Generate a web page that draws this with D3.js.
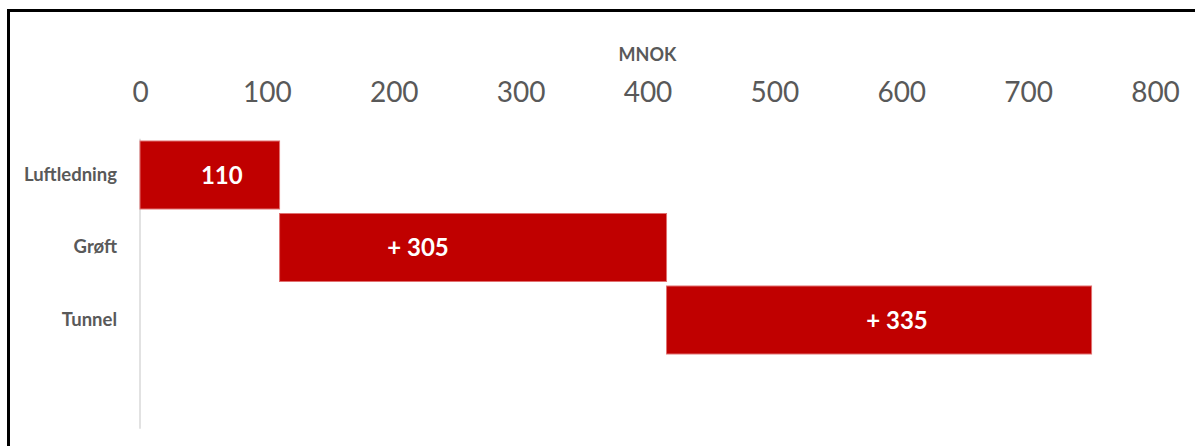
<!DOCTYPE html>
<html>
<head>
<meta charset="utf-8">
<script src="https://cdn.jsdelivr.net/npm/d3@7"></script>
<style>
  html, body { margin: 0; padding: 0; background: #ffffff; }
  svg { display: block; }
</style>
</head>
<body>
<svg id="chart" width="1195" height="446"></svg>
<script>
// Cost steps (MNOK) for each route option
const categories = ["Luftledning", "Grøft", "Tunnel"];
const increments = [110, 305, 335];
const tickValues = [0, 100, 200, 300, 400, 500, 600, 700, 800];
const axisTitle = "MNOK";

// cumulative start/end of each step
let running = 0;
const steps = categories.map((c, i) => {
  const start = running;
  running += increments[i];
  return { cat: c, value: increments[i], start: start, end: running, first: i === 0 };
});

const svg = d3.select("#chart");
const W = 1195, H = 446;
const font = "Lato, 'Open Sans', sans-serif";
const grey = "#595959";
const barColor = "#C00000";

// frame
svg.append("rect")
  .attr("x", 8.5).attr("y", 10.5)
  .attr("width", W + 20).attr("height", H + 20)
  .attr("fill", "none").attr("stroke", "#000").attr("stroke-width", 3);

const plotTop = 138.75, plotBottom = 428.75;
const step = (plotBottom - plotTop) / 4;

const x = d3.scaleLinear().domain([0, 800]).range([140, 1155]);
const y = d3.scaleBand()
  .domain(categories)
  .range([plotTop, plotTop + step * categories.length])
  .paddingInner(0.062)
  .paddingOuter(0.031);

// top value axis (labels only)
const xAxis = d3.axisTop(x).tickValues(tickValues).tickSize(0).tickPadding(0);
const gx = svg.append("g").attr("transform", "translate(0,102)").call(xAxis);
gx.select(".domain").remove();
gx.selectAll("text")
  .attr("font-family", font)
  .attr("font-size", 28)
  .attr("fill", grey)
  .attr("dy", 0);

svg.append("text")
  .attr("x", x(400)).attr("y", 61)
  .attr("text-anchor", "middle")
  .attr("font-family", font)
  .attr("font-weight", "bold")
  .attr("font-size", 18)
  .attr("fill", grey)
  .text(axisTitle);

// category axis line
svg.append("line")
  .attr("x1", x(0)).attr("x2", x(0))
  .attr("y1", plotTop).attr("y2", plotBottom)
  .attr("stroke", "#d9d9d9").attr("stroke-width", 1.5);

// category labels
const yAxis = d3.axisLeft(y).tickSize(0).tickPadding(0);
const gy = svg.append("g").attr("transform", "translate(117,0)").call(yAxis);
gy.select(".domain").remove();
gy.selectAll("text")
  .attr("font-family", font)
  .attr("font-weight", "bold")
  .attr("font-size", 18.5)
  .attr("fill", grey)
  .attr("dy", "0.32em");

// floating bars
svg.append("g").selectAll("rect")
  .data(steps)
  .join("rect")
  .attr("x", d => x(d.start))
  .attr("y", d => y(d.cat))
  .attr("width", d => x(d.end) - x(d.start))
  .attr("height", y.bandwidth())
  .attr("fill", barColor)
  .attr("stroke", "#e07070")
  .attr("stroke-width", 1);

// value labels, nudged horizontally inside each bar
const labelNudge = [12, -55, 18];
svg.append("g").selectAll("text")
  .data(steps)
  .join("text")
  .attr("x", (d, i) => (x(d.start) + x(d.end)) / 2 + labelNudge[i])
  .attr("y", d => y(d.cat) + y.bandwidth() / 2 + 8.5)
  .attr("text-anchor", "middle")
  .attr("font-family", font)
  .attr("font-weight", "bold")
  .attr("font-size", 24)
  .attr("fill", "#ffffff")
  .text(d => d.first ? String(d.value) : "+ " + d.value);
</script>
</body>
</html>
